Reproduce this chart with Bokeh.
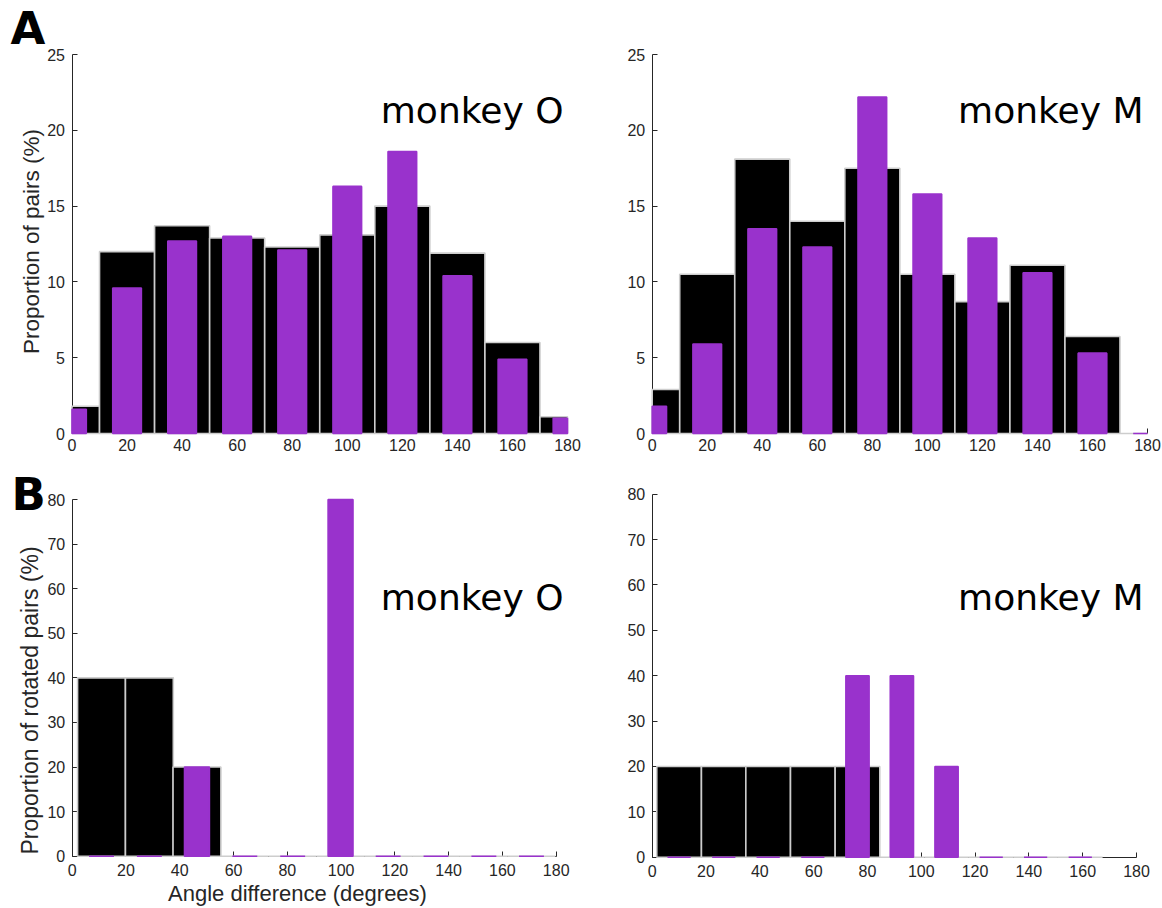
import math
import numpy as np
from bokeh.plotting import figure
from bokeh.models import Range1d, Label, FixedTicker, LinearAxis
from bokeh.layouts import column, row
from bokeh.embed import file_html
from bokeh.resources import INLINE

# ---------------- data ----------------
# Panel A: all pairs, bins centred every 20 degrees
bins_all = [0, 20, 40, 60, 80, 100, 120, 140, 160, 180]
o_all_black = [1.8, 12.0, 13.7, 12.9, 12.3, 13.1, 15.0, 11.9, 6.0, 1.1]
o_all_purple = [1.6, 9.6, 12.7, 13.0, 12.1, 16.3, 18.6, 10.4, 4.9, 1.0]
m_all_black = [2.9, 10.5, 18.1, 14.0, 17.5, 10.5, 8.7, 11.1, 6.4, 0.0]
m_all_purple = [1.8, 5.9, 13.5, 12.3, 22.2, 15.8, 12.9, 10.6, 5.3, 0.0]

# Panel B: rotated pairs
bins_o_rot = [10.9, 28.7, 46.4, 64.2, 82.0, 99.8, 117.5, 135.3, 153.1, 170.8]
o_rot_black = [40, 40, 20, 0, 0, 0, 0, 0, 0, 0]
o_rot_purple = [0, 0, 20, 0, 0, 80, 0, 0, 0, 0]
bins_m_rot = [10.0, 26.6, 43.1, 59.7, 76.3, 92.8, 109.4, 126.0, 142.5, 159.1]
m_rot_black = [20, 20, 20, 20, 20, 0, 0, 0, 0, 0]
m_rot_purple = [0, 0, 0, 0, 40, 40, 20, 0, 0, 0]

x_ticks = [0, 20, 40, 60, 80, 100, 120, 140, 160, 180]
y_ticks_a = [0, 5, 10, 15, 20, 25]
y_ticks_b = [0, 10, 20, 30, 40, 50, 60, 70, 80]

PURPLE = "#9932cc"
AX = "#262626"
EDGE = "#cdcdcd"
XMAX = 180


class Panel:
    def __init__(self, W, H, x0, x180, ytop, y0, ymax, yticks, bins, black, purple, xstand):
        self.x0, self.ytop, self.ymax = x0, ytop, ymax
        self.k = (x180 - x0) / XMAX
        self.q = (y0 - ytop) / ymax
        k, q = self.k, self.q
        p = figure(width=W, height=H, output_backend="svg", toolbar_location=None,
                   x_range=Range1d(-x0 / k, XMAX + (W - x180) / k),
                   y_range=Range1d(-(H - y0) / q, ymax + ytop / q),
                   min_border=0, x_axis_location=None, y_axis_location=None)
        p.outline_line_color = None
        p.background_fill_color = "white"
        p.border_fill_color = "white"
        for g in p.grid:
            g.visible = False

        xa = LinearAxis(fixed_location=0, bounds=(0, XMAX), ticker=FixedTicker(ticks=x_ticks))
        ya = LinearAxis(fixed_location=0, bounds=(0, ymax), ticker=FixedTicker(ticks=yticks))
        for ax in (xa, ya):
            ax.major_tick_in = 5
            ax.major_tick_out = 0
            ax.minor_tick_in = 0
            ax.minor_tick_out = 0
            ax.axis_line_color = AX
            ax.major_tick_line_color = AX
            ax.major_label_text_font = "Liberation Sans"
            ax.major_label_text_font_size = "16px"
            ax.major_label_text_color = AX
        ya.major_label_standoff = 7
        xa.major_label_standoff = xstand
        p.add_layout(xa, "below")
        p.add_layout(ya, "left")

        c = np.array(bins, dtype=float)
        bw = c[1] - c[0]
        for frac, vals, fill, line in ((1.0, black, "black", EDGE), (0.52, purple, PURPLE, PURPLE)):
            half = bw * frac / 2
            p.quad(left=np.clip(c - half, 0, XMAX), right=np.clip(c + half, 0, XMAX),
                   top=vals, bottom=0, fill_color=fill, line_color=line,
                   line_width=1.6, level="annotation")
        self.p = p

    def pos(self, px, py):
        return (px - self.x0) / self.k, self.ymax - (py - self.ytop) / self.q

    def text(self, t, px, py, size, align="left", font="DejaVu Sans", style="normal",
             baseline="alphabetic", angle=0.0, color="black"):
        x, y = self.pos(px, py)
        self.p.add_layout(Label(x=x, y=y, text=t, text_align=align, text_baseline=baseline,
                                text_font=font, text_font_style=style, text_font_size=size,
                                text_color=color, angle=angle))


# top row (height 458)
tl = Panel(600, 458, 71.5, 567, 54, 433, 25, y_ticks_a, bins_all, o_all_black, o_all_purple, 5)
tr = Panel(562, 458, 51.7, 547, 54, 433, 25, y_ticks_a, bins_all, m_all_black, m_all_purple, 5)
tl.text("A", 10, 28, "45px", font="DejaVu Sans", style="bold")
tl.text("monkey O", 563, 110, "36px", align="right")
tr.text("monkey M", 543, 110, "36px", align="right")
tl.text("Proportion of pairs (%)", 31, 241, "22.5px", align="center", font="Liberation Sans",
        baseline="middle", angle=math.pi / 2, color=AX)

# bottom row (height 450, starts at y=458)
bl = Panel(600, 450, 71.7, 555.7, 41, 397.7, 80, y_ticks_b, bins_o_rot, o_rot_black, o_rot_purple, 8)
br = Panel(562, 450, 51.7, 536, 35.7, 398.7, 80, y_ticks_b, bins_m_rot, m_rot_black, m_rot_purple, 8)
bl.text("B", 11, 36, "45px", font="DejaVu Sans", style="bold")
bl.text("monkey O", 563, 139, "36px", align="right")
br.text("monkey M", 543, 139, "36px", align="right")
bl.text("Proportion of rotated pairs (%)", 29, 242, "23px", align="center",
        font="Liberation Sans", baseline="middle", angle=math.pi / 2, color=AX)
bl.text("Angle difference (degrees)", 297, 435, "22px", align="center",
        font="Liberation Sans", color=AX)

layout = column(row(tl.p, tr.p), row(bl.p, br.p))
open("out.html", "w").write(file_html(layout, INLINE))
